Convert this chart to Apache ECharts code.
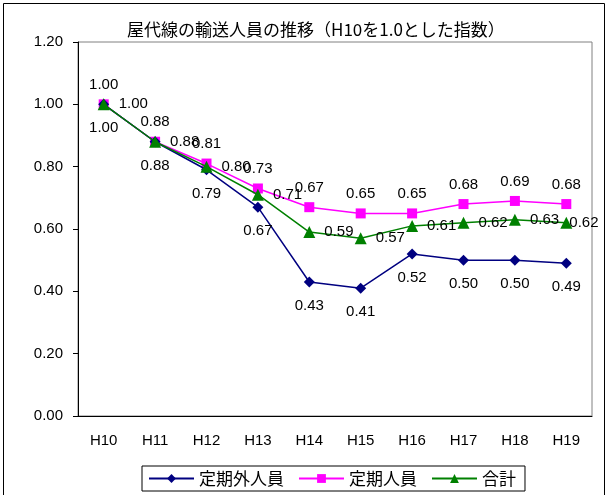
<!DOCTYPE html>
<html>
<head>
<meta charset="utf-8">
<script src="https://cdn.jsdelivr.net/npm/echarts@6/dist/echarts.min.js"></script>
<style>
  html, body { margin: 0; padding: 0; background: #fff; }
  #chart { width: 608px; height: 495px; }
</style>
</head>
<body>
<div id="chart"></div>
<script>
// Fiscal years (Heisei)
const years = ['H10', 'H11', 'H12', 'H13', 'H14', 'H15', 'H16', 'H17', 'H18', 'H19'];
// Ridership index, H10 = 1.0
const nonCommuter = [1.00, 0.88, 0.79, 0.67, 0.43, 0.41, 0.52, 0.50, 0.50, 0.49];
const commuter    = [1.00, 0.88, 0.81, 0.73, 0.67, 0.65, 0.65, 0.68, 0.69, 0.68];
const total       = [1.00, 0.88, 0.80, 0.71, 0.59, 0.57, 0.61, 0.62, 0.63, 0.62];
const yTicks = { min: 0, max: 1.2, interval: 0.2 };

const FONT = '"Liberation Sans", Arial, "Noto Sans CJK JP", sans-serif';
const CJK = '"Noto Sans CJK JP", "Liberation Sans", sans-serif';
const labelStyle = (pos, dist) => ({
  show: true, position: pos, distance: dist,
  color: '#000', fontSize: 15, fontFamily: FONT,
  formatter: p => p.value.toFixed(2)
});

// The last total label is pulled in so it stays inside the frame
const totalData = total.map((v, i) =>
  i === total.length - 1 ? { value: v, label: { distance: -3 } } : v);

const chart = echarts.init(document.getElementById('chart'), null, { renderer: 'canvas' });
chart.setOption({
  animation: false,
  backgroundColor: '#fff',
  title: {
    text: '屋代線の輸送人員の推移（H10を1.0とした指数）',
    left: 122, top: 16,
    textStyle: { fontSize: 17, fontWeight: 'normal', color: '#000', fontFamily: CJK }
  },
  graphic: [{
    type: 'rect', silent: true,
    shape: { x: 3.5, y: 3.5, width: 601, height: 520 },
    style: { fill: 'none', stroke: '#000', lineWidth: 1 }
  }],
  grid: {
    left: 78, right: 16, top: 42, bottom: 79,
    show: true, borderColor: '#808080', borderWidth: 1
  },
  legend: {
    bottom: 4, left: 142,
    itemWidth: 45, itemHeight: 11, itemGap: 14,
    padding: [4, 9, 4, 6],
    borderColor: '#000', borderWidth: 1,
    textStyle: { fontSize: 17, color: '#000', fontFamily: CJK },
    data: ['定期外人員', '定期人員', '合計']
  },
  xAxis: {
    type: 'category', data: years, boundaryGap: true,
    axisLine: { lineStyle: { color: '#000', width: 1 } },
    axisTick: { inside: true, length: 5, lineStyle: { color: '#000' } },
    axisLabel: { color: '#000', fontSize: 15, margin: 17, fontFamily: FONT }
  },
  yAxis: {
    type: 'value', min: yTicks.min, max: yTicks.max, interval: yTicks.interval,
    axisLine: { show: true, lineStyle: { color: '#000', width: 1 } },
    axisTick: { show: true, length: 5, lineStyle: { color: '#000' } },
    splitLine: { show: false },
    axisLabel: { color: '#000', fontSize: 15, margin: 15, fontFamily: FONT, formatter: v => v.toFixed(2) }
  },
  series: [
    {
      name: '定期外人員', type: 'line', data: nonCommuter,
      symbol: 'diamond', symbolSize: 11,
      itemStyle: { color: '#000080' }, lineStyle: { color: '#000080', width: 1.5 },
      label: labelStyle('bottom', 11), z: 3
    },
    {
      name: '定期人員', type: 'line', data: commuter,
      symbol: 'rect', symbolSize: 10,
      itemStyle: { color: '#FF00FF' }, lineStyle: { color: '#FF00FF', width: 1.5 },
      label: labelStyle('top', 7), z: 2
    },
    {
      name: '合計', type: 'line', data: totalData,
      symbol: 'triangle', symbolSize: 12,
      itemStyle: { color: '#008000' }, lineStyle: { color: '#008000', width: 1.5 },
      label: labelStyle('right', 9), z: 4
    }
  ]
});
</script>
</body>
</html>
